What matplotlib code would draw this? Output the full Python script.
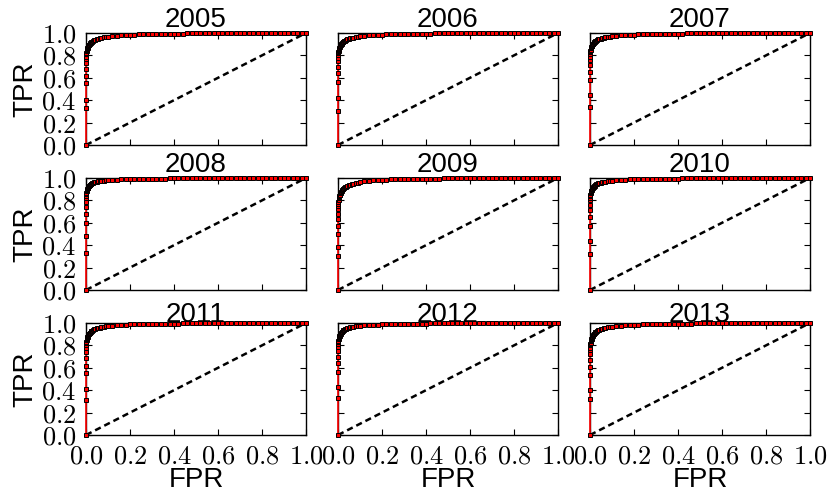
import matplotlib
matplotlib.use("Agg")
import matplotlib.pyplot as plt

plt.rcParams['mathtext.fontset'] = 'cm'
plt.rcParams['font.family'] = ['Liberation Sans', 'DejaVu Sans']

years = ["2005", "2006", "2007", "2008", "2009", "2010", "2011", "2012", "2013"]

tick_values = [0.0, 0.2, 0.4, 0.6, 0.8, 1.0]
tick_labels = ["$0.0$", "$0.2$", "$0.4$", "$0.6$", "$0.8$", "$1.0$"]

fpr = [
    0.000, 0.000, 0.000, 0.000, 0.000, 0.000, 0.000,
    0.001, 0.001, 0.002, 0.002, 0.003, 0.004, 0.005, 0.006, 0.007, 0.008,
    0.010, 0.012, 0.014, 0.016, 0.019, 0.022, 0.025, 0.029, 0.033, 0.038,
    0.043, 0.049, 0.055, 0.062, 0.070, 0.080, 0.090, 0.100, 0.120, 0.140,
    0.160, 0.180, 0.200, 0.220, 0.240, 0.260, 0.280, 0.300, 0.320, 0.340,
    0.360, 0.380, 0.400, 0.420, 0.440, 0.460, 0.480, 0.500, 0.520, 0.540,
    0.560, 0.580, 0.600, 0.620, 0.640, 0.660, 0.680, 0.700, 0.720, 0.740,
    0.760, 0.780, 0.800, 0.820, 0.840, 0.860, 0.880, 0.900, 0.920, 0.940,
    0.960, 0.980, 1.000,
]

tpr_2005 = [
    0.00, 0.33, 0.40, 0.55, 0.62, 0.68, 0.73,
    0.77, 0.79, 0.81, 0.82, 0.835, 0.845, 0.855, 0.862, 0.868, 0.874,
    0.882, 0.889, 0.895, 0.900, 0.907, 0.913, 0.918, 0.924, 0.929, 0.934,
    0.939, 0.944, 0.948, 0.952, 0.956, 0.960, 0.964, 0.967, 0.972, 0.976,
    0.979, 0.982, 0.984, 0.986, 0.988, 0.989, 0.990, 0.991, 0.992, 0.993,
    0.994, 0.994, 0.995, 0.995, 0.995, 0.996, 0.996, 0.996, 0.997, 0.997,
    0.997, 0.997, 0.998, 0.998, 0.998, 0.998, 0.999, 0.999, 0.999, 0.999,
    0.999, 0.999, 0.999, 1.000, 1.000, 1.000, 1.000, 1.000, 1.000, 1.000,
    1.000, 1.000, 1.000,
]
tpr_2006 = [
    0.00, 0.30, 0.42, 0.56, 0.64, 0.70, 0.75,
    0.78, 0.80, 0.82, 0.83, 0.842, 0.852, 0.861, 0.868, 0.874, 0.880,
    0.887, 0.893, 0.899, 0.904, 0.910, 0.916, 0.921, 0.927, 0.932, 0.937,
    0.942, 0.947, 0.951, 0.955, 0.959, 0.963, 0.966, 0.969, 0.974, 0.978,
    0.981, 0.984, 0.986, 0.988, 0.989, 0.990, 0.991, 0.992, 0.993, 0.994,
    0.994, 0.995, 0.995, 0.995, 0.996, 0.996, 0.996, 0.997, 0.997, 0.997,
    0.997, 0.998, 0.998, 0.998, 0.998, 0.999, 0.999, 0.999, 0.999, 0.999,
    0.999, 0.999, 1.000, 1.000, 1.000, 1.000, 1.000, 1.000, 1.000, 1.000,
    1.000, 1.000, 1.000,
]
tpr_2007 = [
    0.00, 0.34, 0.45, 0.58, 0.65, 0.71, 0.76,
    0.79, 0.81, 0.83, 0.84, 0.852, 0.862, 0.870, 0.877, 0.883, 0.888,
    0.895, 0.901, 0.906, 0.911, 0.917, 0.922, 0.927, 0.932, 0.937, 0.942,
    0.946, 0.950, 0.954, 0.958, 0.962, 0.965, 0.968, 0.971, 0.975, 0.979,
    0.982, 0.984, 0.986, 0.988, 0.989, 0.990, 0.991, 0.992, 0.993, 0.994,
    0.994, 0.995, 0.995, 0.995, 0.996, 0.996, 0.996, 0.997, 0.997, 0.997,
    0.997, 0.998, 0.998, 0.998, 0.998, 0.998, 0.999, 0.999, 0.999, 0.999,
    0.999, 0.999, 0.999, 1.000, 1.000, 1.000, 1.000, 1.000, 1.000, 1.000,
    1.000, 1.000, 1.000,
]
tpr_2008 = [
    0.00, 0.33, 0.48, 0.60, 0.68, 0.74, 0.79,
    0.82, 0.84, 0.86, 0.87, 0.880, 0.889, 0.896, 0.902, 0.907, 0.912,
    0.919, 0.925, 0.930, 0.935, 0.940, 0.945, 0.950, 0.954, 0.958, 0.962,
    0.965, 0.968, 0.971, 0.973, 0.975, 0.977, 0.979, 0.981, 0.984, 0.986,
    0.988, 0.989, 0.990, 0.991, 0.992, 0.993, 0.993, 0.994, 0.995, 0.995,
    0.995, 0.996, 0.996, 0.996, 0.997, 0.997, 0.997, 0.997, 0.998, 0.998,
    0.998, 0.998, 0.998, 0.999, 0.999, 0.999, 0.999, 0.999, 0.999, 1.000,
    1.000, 1.000, 1.000, 1.000, 1.000, 1.000, 1.000, 1.000, 1.000, 1.000,
    1.000, 1.000, 1.000,
]
tpr_2009 = [
    0.00, 0.30, 0.38, 0.50, 0.57, 0.63, 0.68,
    0.72, 0.75, 0.77, 0.79, 0.805, 0.818, 0.828, 0.837, 0.845, 0.852,
    0.862, 0.870, 0.877, 0.883, 0.891, 0.898, 0.904, 0.911, 0.917, 0.923,
    0.929, 0.935, 0.940, 0.945, 0.950, 0.955, 0.959, 0.963, 0.969, 0.974,
    0.978, 0.981, 0.984, 0.986, 0.988, 0.989, 0.990, 0.991, 0.992, 0.993,
    0.993, 0.994, 0.994, 0.995, 0.995, 0.995, 0.996, 0.996, 0.996, 0.997,
    0.997, 0.997, 0.997, 0.998, 0.998, 0.998, 0.998, 0.998, 0.999, 0.999,
    0.999, 0.999, 0.999, 0.999, 0.999, 1.000, 1.000, 1.000, 1.000, 1.000,
    1.000, 1.000, 1.000,
]
tpr_2010 = [
    0.00, 0.32, 0.44, 0.57, 0.65, 0.71, 0.76,
    0.80, 0.82, 0.84, 0.85, 0.862, 0.872, 0.880, 0.887, 0.893, 0.898,
    0.905, 0.911, 0.916, 0.921, 0.927, 0.932, 0.937, 0.942, 0.947, 0.951,
    0.955, 0.959, 0.962, 0.965, 0.968, 0.971, 0.974, 0.976, 0.980, 0.983,
    0.985, 0.987, 0.988, 0.989, 0.990, 0.991, 0.992, 0.993, 0.994, 0.994,
    0.995, 0.995, 0.995, 0.996, 0.996, 0.996, 0.997, 0.997, 0.997, 0.997,
    0.998, 0.998, 0.998, 0.998, 0.998, 0.999, 0.999, 0.999, 0.999, 0.999,
    0.999, 1.000, 1.000, 1.000, 1.000, 1.000, 1.000, 1.000, 1.000, 1.000,
    1.000, 1.000, 1.000,
]
tpr_2011 = [
    0.00, 0.31, 0.41, 0.55, 0.62, 0.69, 0.74,
    0.78, 0.80, 0.82, 0.83, 0.845, 0.855, 0.864, 0.871, 0.877, 0.883,
    0.891, 0.898, 0.904, 0.909, 0.915, 0.921, 0.926, 0.932, 0.937, 0.942,
    0.947, 0.951, 0.955, 0.959, 0.963, 0.966, 0.969, 0.972, 0.976, 0.980,
    0.983, 0.985, 0.987, 0.988, 0.989, 0.990, 0.991, 0.992, 0.993, 0.994,
    0.994, 0.995, 0.995, 0.995, 0.996, 0.996, 0.996, 0.997, 0.997, 0.997,
    0.997, 0.998, 0.998, 0.998, 0.998, 0.999, 0.999, 0.999, 0.999, 0.999,
    0.999, 0.999, 1.000, 1.000, 1.000, 1.000, 1.000, 1.000, 1.000, 1.000,
    1.000, 1.000, 1.000,
]
tpr_2012 = [
    0.00, 0.33, 0.43, 0.56, 0.64, 0.70, 0.75,
    0.79, 0.81, 0.83, 0.84, 0.855, 0.865, 0.874, 0.881, 0.887, 0.893,
    0.900, 0.906, 0.912, 0.917, 0.923, 0.929, 0.934, 0.939, 0.944, 0.949,
    0.953, 0.957, 0.961, 0.964, 0.967, 0.970, 0.973, 0.975, 0.979, 0.982,
    0.984, 0.986, 0.988, 0.989, 0.990, 0.991, 0.992, 0.993, 0.994, 0.994,
    0.995, 0.995, 0.995, 0.996, 0.996, 0.996, 0.997, 0.997, 0.997, 0.997,
    0.998, 0.998, 0.998, 0.998, 0.998, 0.999, 0.999, 0.999, 0.999, 0.999,
    0.999, 0.999, 1.000, 1.000, 1.000, 1.000, 1.000, 1.000, 1.000, 1.000,
    1.000, 1.000, 1.000,
]
tpr_2013 = [
    0.00, 0.32, 0.40, 0.54, 0.61, 0.67, 0.72,
    0.76, 0.78, 0.80, 0.81, 0.825, 0.836, 0.846, 0.854, 0.861, 0.868,
    0.877, 0.885, 0.892, 0.898, 0.905, 0.911, 0.917, 0.923, 0.929, 0.934,
    0.939, 0.944, 0.948, 0.952, 0.956, 0.960, 0.964, 0.967, 0.972, 0.976,
    0.979, 0.982, 0.984, 0.986, 0.988, 0.989, 0.990, 0.991, 0.992, 0.993,
    0.993, 0.994, 0.994, 0.995, 0.995, 0.995, 0.996, 0.996, 0.996, 0.997,
    0.997, 0.997, 0.997, 0.998, 0.998, 0.998, 0.998, 0.999, 0.999, 0.999,
    0.999, 0.999, 0.999, 0.999, 1.000, 1.000, 1.000, 1.000, 1.000, 1.000,
    1.000, 1.000, 1.000,
]

tprs = [tpr_2005, tpr_2006, tpr_2007, tpr_2008, tpr_2009,
        tpr_2010, tpr_2011, tpr_2012, tpr_2013]

chance_x = [0.0, 1.0]
chance_y = [0.0, 1.0]

W, H = 828, 497
fig = plt.figure(figsize=(W / 100, H / 100), dpi=100)

col_left = [86, 338, 590]
row_top = [33, 178, 323]
aw, ah = 220, 112

for i, (year, tpr) in enumerate(zip(years, tprs)):
    r, c = divmod(i, 3)
    rect = [col_left[c] / W, 1 - (row_top[r] + ah) / H, aw / W, ah / H]
    ax = fig.add_axes(rect)
    ax.plot(chance_x, chance_y, color='black', lw=1.8, dashes=(2.5, 1.6))
    ax.plot(fpr, tpr, color='red', lw=1.2, marker='s', ms=3.5,
            mfc='red', mec='black', mew=0.7, clip_on=False, zorder=3)
    ax.set_xlim(0, 1)
    ax.set_ylim(0, 1)
    ax.set_xticks(tick_values)
    ax.set_yticks(tick_values)
    ax.tick_params(direction='in', top=True, right=True, length=4,
                   width=0.8, labelsize=19, pad=7)
    if c == 0:
        ax.set_yticklabels(tick_labels)
        ax.set_ylabel("TPR", fontsize=20, labelpad=2)
    else:
        ax.set_yticklabels([])
    if r == 2:
        ax.set_xticklabels(tick_labels)
        ax.set_xlabel("FPR", fontsize=20, labelpad=-1)
    else:
        ax.set_xticklabels([])
    ax.set_title(year, fontsize=20, pad=1)
    for s in ax.spines.values():
        s.set_linewidth(1.0)

fig.savefig("out.png", dpi=100)
